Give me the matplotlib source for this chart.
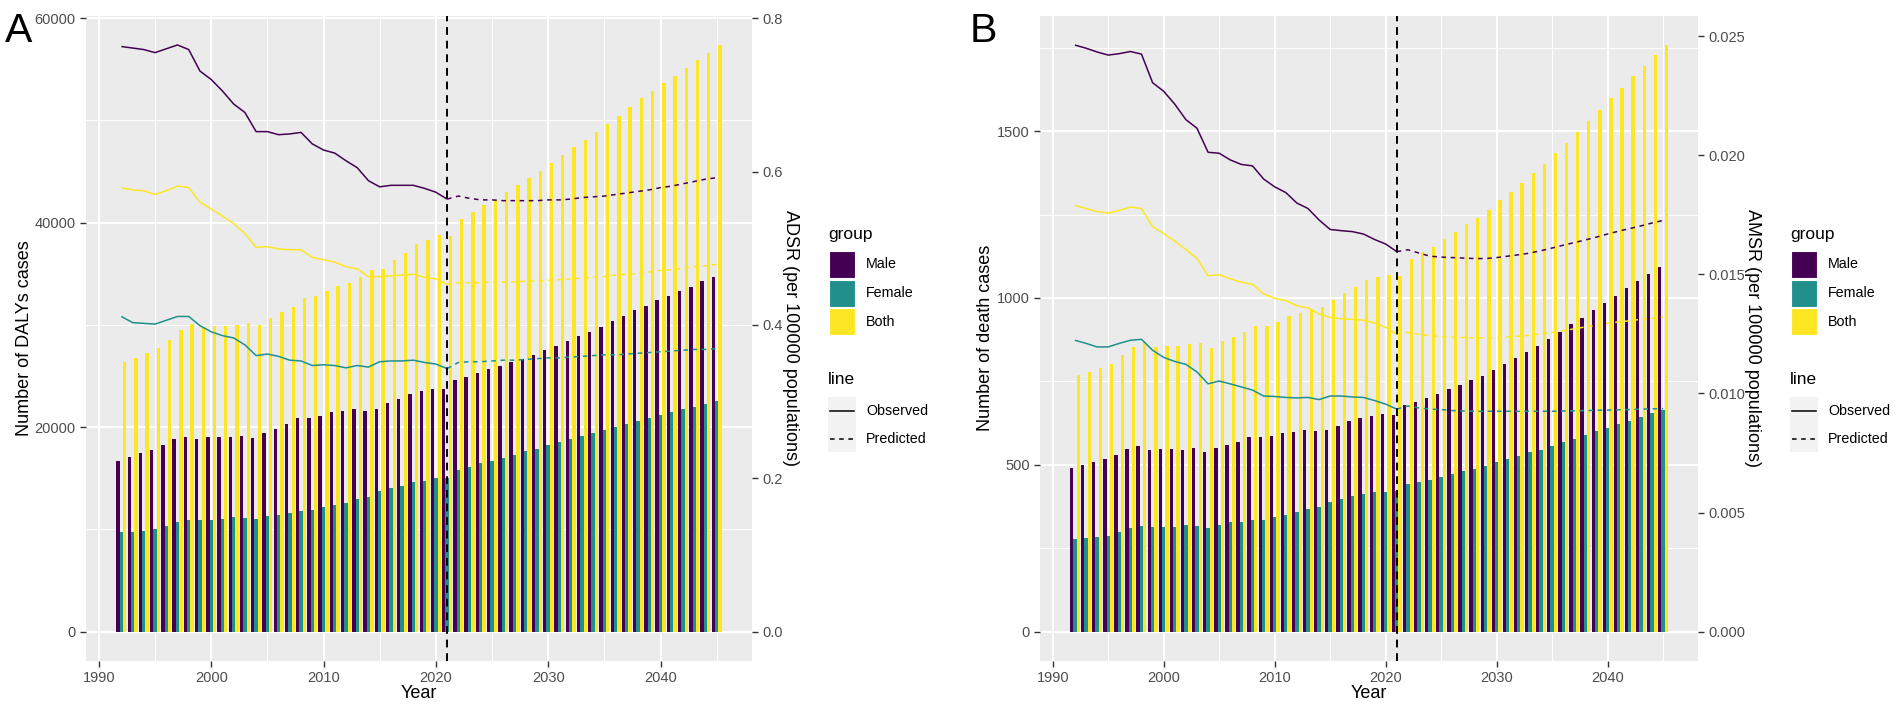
import matplotlib
matplotlib.use("Agg")
import matplotlib.pyplot as plt
import numpy as np
from matplotlib.patches import Rectangle
from matplotlib.lines import Line2D

plt.rcParams['font.family'] = ['Liberation Sans', 'DejaVu Sans']

W, H = 1902, 711

years = np.arange(1992, 2046)
obs_years = np.arange(1992, 2022)
pred_years = np.arange(2021, 2046)

# panel A: DALYs
dalys_male = [16730, 17040, 17440, 17750, 18240, 18820, 19040, 18860, 19000, 19000,
              19040, 19130, 18950, 19400, 19800, 20280, 20860, 20910, 21130, 21440,
              21570, 21750, 21570, 21750, 22330, 22720, 23210, 23520, 23750, 23750,
              24630, 24940, 25250, 25650, 26010, 26360, 26670, 27070, 27560, 27960,
              28450, 28890, 29330, 29820, 30350, 30890, 31420, 31860, 32400, 32840,
              33280, 33730, 34260, 34700]
dalys_female = [9720, 9720, 9850, 10030, 10340, 10740, 10960, 10920, 10920, 11010,
                11180, 11140, 11010, 11320, 11450, 11580, 11810, 11900, 12210, 12430,
                12610, 13000, 13180, 13710, 14030, 14290, 14650, 14780, 15000, 15000,
                15800, 16110, 16470, 16730, 17000, 17310, 17620, 17880, 18240, 18510,
                18860, 19130, 19440, 19750, 20060, 20330, 20640, 20900, 21210, 21480,
                21750, 22010, 22280, 22540]
dalys_both = [26400, 26720, 27300, 27740, 28540, 29520, 30050, 29830, 29920, 29920,
              30000, 30230, 29960, 30630, 31250, 31780, 32620, 32800, 33330, 33780,
              34090, 34710, 35330, 35510, 36350, 37060, 37900, 38350, 38750, 38660,
              40390, 41010, 41680, 42250, 43010, 43710, 44380, 45090, 45840, 46600,
              47350, 48060, 48820, 49660, 50460, 51260, 52140, 52900, 53650, 54360,
              55120, 55870, 56540, 57340]

adsr_male_obs = [0.763, 0.761, 0.759, 0.755, 0.760, 0.765, 0.759, 0.731, 0.720, 0.705,
                 0.688, 0.677, 0.652, 0.652, 0.648, 0.649, 0.651, 0.636, 0.628, 0.624,
                 0.614, 0.605, 0.588, 0.580, 0.582, 0.582, 0.582, 0.578, 0.573, 0.564]
adsr_female_obs = [0.411, 0.403, 0.402, 0.401, 0.406, 0.411, 0.411, 0.399, 0.391, 0.386,
                   0.383, 0.374, 0.360, 0.362, 0.359, 0.354, 0.353, 0.347, 0.348, 0.347,
                   0.344, 0.347, 0.345, 0.352, 0.353, 0.353, 0.354, 0.351, 0.349, 0.343]
adsr_both_obs = [0.579, 0.576, 0.575, 0.570, 0.575, 0.581, 0.579, 0.560, 0.551, 0.542,
                 0.532, 0.519, 0.501, 0.502, 0.499, 0.498, 0.498, 0.488, 0.485, 0.482,
                 0.476, 0.473, 0.463, 0.463, 0.464, 0.465, 0.466, 0.462, 0.460, 0.453]
adsr_male_pred = [0.564, 0.568, 0.565, 0.563, 0.563, 0.562, 0.562, 0.562, 0.562, 0.563,
                  0.563, 0.564, 0.566, 0.567, 0.568, 0.570, 0.572, 0.574, 0.576, 0.579,
                  0.581, 0.584, 0.587, 0.590, 0.592]
adsr_female_pred = [0.343, 0.351, 0.352, 0.352, 0.353, 0.354, 0.354, 0.355, 0.356, 0.357,
                    0.357, 0.358, 0.359, 0.360, 0.361, 0.361, 0.362, 0.363, 0.364, 0.365,
                    0.366, 0.367, 0.368, 0.368, 0.369]
adsr_both_pred = [0.453, 0.455, 0.455, 0.455, 0.456, 0.456, 0.456, 0.457, 0.457, 0.458,
                  0.459, 0.460, 0.461, 0.462, 0.463, 0.465, 0.466, 0.467, 0.469, 0.471,
                  0.472, 0.474, 0.476, 0.477, 0.479]

# panel B: deaths
death_male = [490, 499, 507, 517, 530, 547, 555, 543, 547, 547,
              544, 549, 538, 549, 558, 568, 583, 583, 587, 596,
              598, 605, 601, 604, 617, 631, 640, 647, 653, 649,
              680, 689, 699, 712, 727, 740, 753, 767, 785, 802,
              820, 838, 855, 877, 897, 921, 941, 963, 986, 1006,
              1029, 1050, 1072, 1092]
death_female = [279, 280, 283, 288, 299, 310, 318, 314, 313, 315,
                320, 318, 311, 321, 328, 330, 336, 335, 344, 351,
                358, 367, 374, 389, 397, 405, 413, 417, 417, 420,
                441, 447, 454, 462, 472, 480, 488, 496, 507, 517,
                526, 537, 545, 556, 567, 578, 589, 600, 611, 621,
                632, 643, 654, 665]
death_both = [768, 778, 789, 802, 828, 853, 868, 854, 857, 857,
              862, 866, 849, 872, 884, 899, 917, 917, 929, 945,
              955, 968, 974, 993, 1014, 1033, 1054, 1063, 1070, 1067,
              1118, 1137, 1152, 1176, 1198, 1221, 1240, 1265, 1293, 1319,
              1346, 1373, 1401, 1433, 1465, 1498, 1530, 1564, 1598, 1630,
              1664, 1696, 1727, 1757]

amsr_male_obs = [0.02462, 0.02449, 0.02433, 0.02420, 0.02426, 0.02435, 0.02424, 0.02304, 0.02268, 0.02214,
                 0.02149, 0.02113, 0.02012, 0.02008, 0.01980, 0.01961, 0.01955, 0.01900, 0.01867, 0.01843,
                 0.01799, 0.01776, 0.01728, 0.01688, 0.01683, 0.01679, 0.01669, 0.01646, 0.01627, 0.01595]
amsr_female_obs = [0.01223, 0.01210, 0.01195, 0.01195, 0.01210, 0.01223, 0.01227, 0.01181, 0.01151, 0.01134,
                   0.01122, 0.01090, 0.01040, 0.01052, 0.01040, 0.01027, 0.01014, 0.00989, 0.00987, 0.00983,
                   0.00981, 0.00983, 0.00974, 0.00989, 0.00989, 0.00985, 0.00983, 0.00970, 0.00955, 0.00934]
amsr_both_obs = [0.01789, 0.01776, 0.01763, 0.01757, 0.01768, 0.01782, 0.01776, 0.01700, 0.01671, 0.01639,
                 0.01604, 0.01566, 0.01494, 0.01498, 0.01481, 0.01467, 0.01458, 0.01418, 0.01399, 0.01389,
                 0.01368, 0.01359, 0.01334, 0.01319, 0.01313, 0.01311, 0.01307, 0.01296, 0.01277, 0.01248]
amsr_male_pred = [0.01595, 0.01603, 0.01589, 0.01576, 0.01572, 0.01570, 0.01568, 0.01566, 0.01566, 0.01570,
                  0.01576, 0.01582, 0.01589, 0.01599, 0.01610, 0.01622, 0.01633, 0.01644, 0.01656, 0.01669,
                  0.01681, 0.01692, 0.01703, 0.01715, 0.01726]
amsr_female_pred = [0.00934, 0.00947, 0.00939, 0.00934, 0.00932, 0.00928, 0.00926, 0.00925, 0.00925, 0.00925,
                    0.00925, 0.00925, 0.00925, 0.00925, 0.00925, 0.00926, 0.00927, 0.00928, 0.00929, 0.00930,
                    0.00931, 0.00932, 0.00934, 0.00935, 0.00936]
amsr_both_pred = [0.01248, 0.01256, 0.01248, 0.01242, 0.01238, 0.01236, 0.01235, 0.01233, 0.01233, 0.01234,
                  0.01237, 0.01240, 0.01244, 0.01250, 0.01256, 0.01263, 0.01271, 0.01279, 0.01286, 0.01294,
                  0.01300, 0.01305, 0.01311, 0.01315, 0.01320]

groups = ['Male', 'Female', 'Both']
colors = {'Male': '#440154', 'Female': '#21908C', 'Both': '#FDE725'}
TXT = '#4D4D4D'


def fx(x):
    return x / W


def fy(y):
    return 1 - y / H


def panel(l, r, bars, obs, pred, factor, ylim, yticks, yminor, rticks, rfmt,
          ylabel, rlabel, letter, letter_x, ylab_x, rlab_x, leg_x):
    t, b = 16, 661
    ax = fig.add_axes([fx(l), fy(b), fx(r - l), (b - t) / H])
    ax.set_facecolor('#EBEBEB')
    for s in ax.spines.values():
        s.set_visible(False)

    offs = [-0.3, 0.0, 0.3]
    for g, o in zip(groups, offs):
        ax.bar(years + o, bars[g], width=0.3, color=colors[g], linewidth=0, zorder=2)
    for g in groups:
        ax.plot(obs_years, np.array(obs[g]) * factor, color=colors[g], lw=1.1,
                zorder=3, solid_capstyle='butt')
        ax.plot(pred_years, np.array(pred[g]) * factor, color=colors[g], lw=1.1,
                dashes=(3, 3), zorder=3)
    ax.axvline(2021, color='black', lw=1.4, dashes=(4, 3), zorder=4)

    ax.set_xlim(1988.855, 2048.145)
    ax.set_ylim(*ylim)
    ax.set_xticks(np.arange(1990, 2041, 10))
    ax.set_xticks(np.arange(1995, 2046, 10), minor=True)
    ax.set_yticks(yticks)
    ax.set_yticklabels([str(v) for v in yticks])
    ax.set_yticks(yminor, minor=True)
    ax.grid(True, which='major', color='white', lw=1.5, zorder=0)
    ax.grid(True, which='minor', color='white', lw=0.7, zorder=0)
    ax.set_axisbelow(True)
    ax.tick_params(which='major', length=4, width=1, color='#333333',
                   labelsize=10.5, labelcolor=TXT, pad=3.5)
    ax.tick_params(which='minor', length=0)

    ax2 = ax.twinx()
    for s in ax2.spines.values():
        s.set_visible(False)
    ax2.set_ylim(ylim[0] / factor, ylim[1] / factor)
    ax2.set_yticks(rticks)
    ax2.set_yticklabels([rfmt.format(v) for v in rticks])
    ax2.tick_params(length=4, width=1, color='#333333', labelsize=10.5,
                    labelcolor=TXT, pad=3.5)

    fig.text(fx(ylab_x), fy(338), ylabel, rotation=90, ha='center', va='center',
             fontsize=13, color='black')
    fig.text(fx(rlab_x), fy(338), rlabel, rotation=270, ha='center', va='center',
             fontsize=13, color='black')
    fig.text(fx((l + r) / 2), fy(693), 'Year', ha='center', va='center',
             fontsize=13, color='black')
    fig.text(fx(letter_x), fy(31), letter, ha='left', va='center', fontsize=29.5)

    # legends
    fig.text(fx(leg_x), fy(235), 'group', ha='left', va='center', fontsize=12.5)
    for i, g in enumerate(groups):
        y0 = 251 + i * 28.5
        fig.patches.append(Rectangle((fx(leg_x + 1), fy(y0 + 27)), 26 / W, 27 / H,
                                     transform=fig.transFigure, facecolor=colors[g],
                                     edgecolor='white', lw=0.8))
        fig.text(fx(leg_x + 38), fy(y0 + 13.5), g, ha='left', va='center', fontsize=10.3)
    fig.text(fx(leg_x), fy(380), 'line', ha='left', va='center', fontsize=12.5)
    fig.patches.append(Rectangle((fx(leg_x), fy(452)), 28 / W, 55 / H,
                                 transform=fig.transFigure, facecolor='#F2F2F2',
                                 edgecolor='none'))
    fig.lines.append(Line2D([fx(leg_x + 2), fx(leg_x + 26)], [fy(411), fy(411)],
                            transform=fig.transFigure, color='black', lw=1.1))
    fig.lines.append(Line2D([fx(leg_x + 2), fx(leg_x + 26)], [fy(439), fy(439)],
                            transform=fig.transFigure, color='black', lw=1.1,
                            dashes=(3, 3)))
    fig.text(fx(leg_x + 38), fy(411), 'Observed', ha='left', va='center', fontsize=10.3)
    fig.text(fx(leg_x + 38), fy(439), 'Predicted', ha='left', va='center', fontsize=10.3)


fig = plt.figure(figsize=(W / 100, H / 100), dpi=100)

panel(86, 752,
      {'Male': dalys_male, 'Female': dalys_female, 'Both': dalys_both},
      {'Male': adsr_male_obs, 'Female': adsr_female_obs, 'Both': adsr_both_obs},
      {'Male': adsr_male_pred, 'Female': adsr_female_pred, 'Both': adsr_both_pred},
      75000, (-2867, 60207), [0, 20000, 40000, 60000], [10000, 30000, 50000],
      [0.0, 0.2, 0.4, 0.6, 0.8], '{:.1f}',
      'Number of DALYs cases', 'ADSR (per 100000 populations)', 'A', 5, 25, 790, 828)

panel(1040, 1698,
      {'Male': death_male, 'Female': death_female, 'Both': death_both},
      {'Male': amsr_male_obs, 'Female': amsr_female_obs, 'Both': amsr_both_obs},
      {'Male': amsr_male_pred, 'Female': amsr_female_pred, 'Both': amsr_both_pred},
      71400, (-88, 1845), [0, 500, 1000, 1500], [250, 750, 1250, 1750],
      [0.0, 0.005, 0.010, 0.015, 0.020, 0.025], '{:.3f}',
      'Number of death cases', 'AMSR (per 100000 populations)', 'B', 970, 986, 1753, 1790)

fig.savefig('out.png', dpi=100, facecolor='white')
